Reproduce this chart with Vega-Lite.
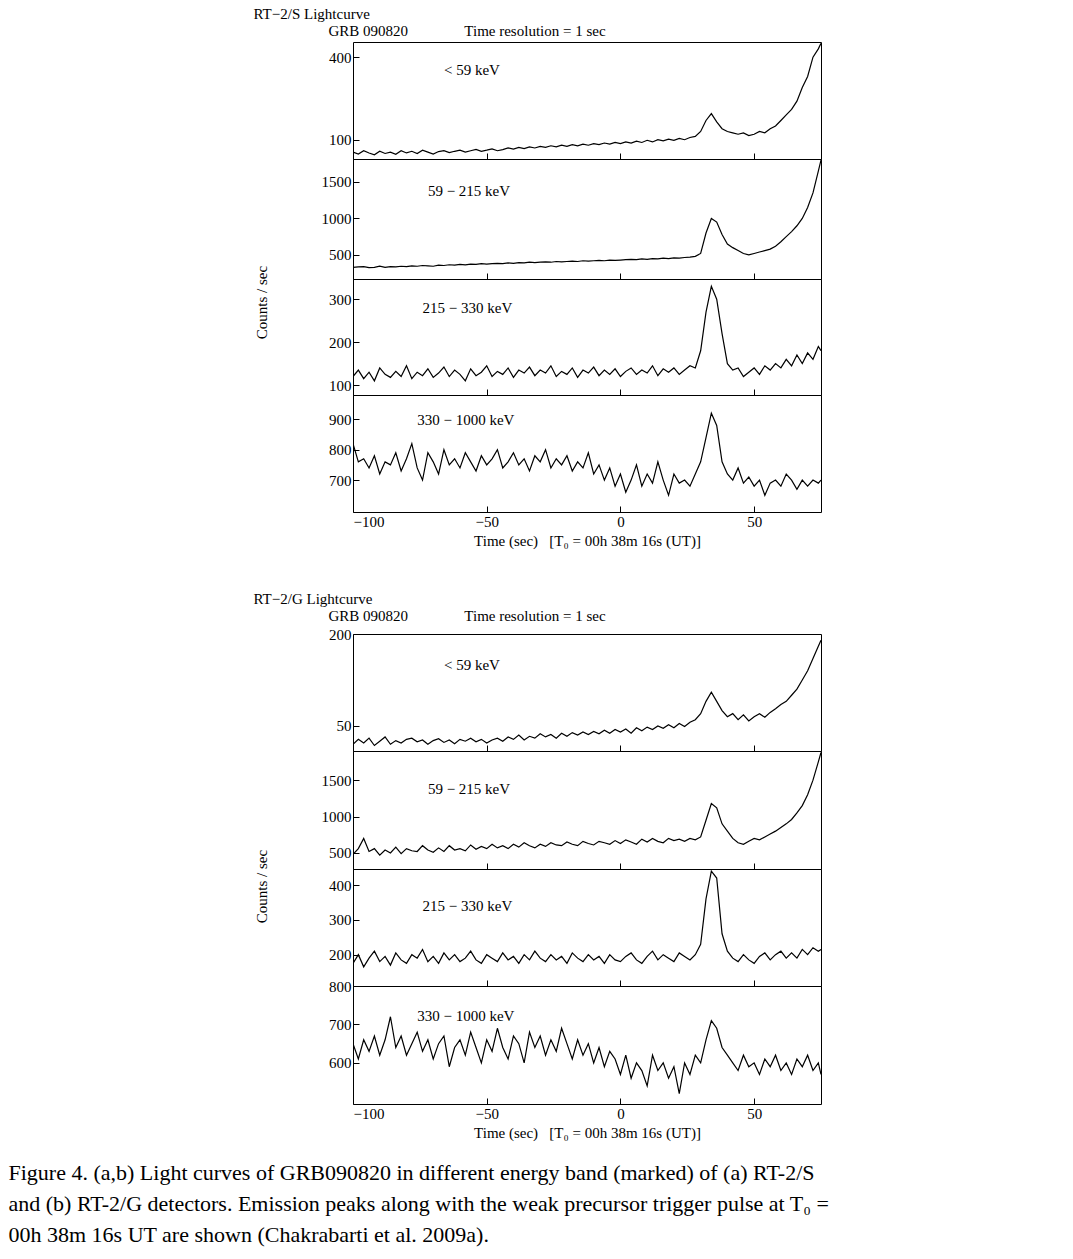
{
"$schema":"https://vega.github.io/schema/vega-lite/v6.json",
"padding":{"left":8,"top":6,"right":8,"bottom":6},
"background":"white",
"config":{"font":"Liberation Serif","view":{"stroke":"black","strokeWidth":1},
"axis":{"labelFont":"Liberation Serif","labelFontSize":15,"labelColor":"black","titleFont":"Liberation Serif","titleFontSize":15,"titleFontWeight":"normal","titleColor":"black","grid":false,"domain":false,"tickSize":-6,"tickColor":"black","labelPadding":8,"labelOverlap":false,"format":"d"},
"title":{"font":"Liberation Serif","fontWeight":"normal","fontSize":15,"color":"black"}},
"title":{"text":["Figure 4.  (a,b) Light curves of GRB090820 in different energy band (marked) of (a) RT-2/S","and (b) RT-2/G detectors. Emission peaks along with the weak precursor trigger pulse at T₀ =","00h 38m 16s UT are shown (Chakrabarti et al. 2009a)."],"orient":"bottom","anchor":"start","dx":-245,"fontSize":22,"lineHeight":31,"offset":22},
"data":{"values":[
{"t":-100,"a1":55,"a2":330,"a3":120,"a4":820,"b1":20,"b2":480,"b3":175,"b4":650},
{"t":-98,"a1":48,"a2":335,"a3":135,"a4":760,"b1":28,"b2":560,"b3":200,"b4":610},
{"t":-96,"a1":60,"a2":340,"a3":115,"a4":770,"b1":22,"b2":700,"b3":165,"b4":660},
{"t":-94,"a1":52,"a2":325,"a3":130,"a4":740,"b1":30,"b2":520,"b3":190,"b4":630},
{"t":-92,"a1":45,"a2":330,"a3":110,"a4":780,"b1":18,"b2":560,"b3":210,"b4":670},
{"t":-90,"a1":58,"a2":345,"a3":140,"a4":720,"b1":25,"b2":470,"b3":180,"b4":620},
{"t":-88,"a1":50,"a2":330,"a3":125,"a4":760,"b1":32,"b2":540,"b3":195,"b4":660},
{"t":-86,"a1":55,"a2":340,"a3":118,"a4":750,"b1":20,"b2":500,"b3":170,"b4":720},
{"t":-84,"a1":47,"a2":335,"a3":132,"a4":790,"b1":26,"b2":580,"b3":205,"b4":640},
{"t":-82,"a1":60,"a2":345,"a3":120,"a4":730,"b1":22,"b2":490,"b3":185,"b4":670},
{"t":-80,"a1":52,"a2":340,"a3":145,"a4":770,"b1":28,"b2":560,"b3":175,"b4":620},
{"t":-78,"a1":58,"a2":350,"a3":115,"a4":820,"b1":30,"b2":530,"b3":200,"b4":650},
{"t":-76,"a1":50,"a2":345,"a3":130,"a4":740,"b1":24,"b2":520,"b3":190,"b4":680},
{"t":-74,"a1":62,"a2":355,"a3":122,"a4":700,"b1":27,"b2":600,"b3":215,"b4":630},
{"t":-72,"a1":55,"a2":350,"a3":138,"a4":790,"b1":20,"b2":540,"b3":180,"b4":660},
{"t":-70,"a1":48,"a2":345,"a3":118,"a4":760,"b1":26,"b2":510,"b3":195,"b4":610},
{"t":-68,"a1":57,"a2":360,"a3":128,"a4":720,"b1":29,"b2":570,"b3":175,"b4":650},
{"t":-66,"a1":60,"a2":355,"a3":142,"a4":800,"b1":23,"b2":520,"b3":205,"b4":670},
{"t":-64,"a1":53,"a2":365,"a3":120,"a4":750,"b1":27,"b2":600,"b3":185,"b4":590},
{"t":-62,"a1":58,"a2":360,"a3":135,"a4":770,"b1":21,"b2":540,"b3":200,"b4":640},
{"t":-60,"a1":62,"a2":370,"a3":125,"a4":740,"b1":28,"b2":560,"b3":180,"b4":660},
{"t":-58,"a1":55,"a2":365,"a3":110,"a4":790,"b1":25,"b2":530,"b3":190,"b4":620},
{"t":-56,"a1":60,"a2":375,"a3":138,"a4":760,"b1":30,"b2":610,"b3":210,"b4":680},
{"t":-54,"a1":65,"a2":370,"a3":122,"a4":730,"b1":24,"b2":550,"b3":185,"b4":640},
{"t":-52,"a1":58,"a2":380,"a3":130,"a4":780,"b1":28,"b2":590,"b3":175,"b4":600},
{"t":-50,"a1":62,"a2":375,"a3":145,"a4":750,"b1":22,"b2":560,"b3":200,"b4":660},
{"t":-48,"a1":67,"a2":380,"a3":120,"a4":770,"b1":27,"b2":620,"b3":190,"b4":630},
{"t":-46,"a1":60,"a2":385,"a3":132,"a4":800,"b1":30,"b2":570,"b3":180,"b4":690},
{"t":-44,"a1":64,"a2":380,"a3":125,"a4":740,"b1":25,"b2":600,"b3":205,"b4":640},
{"t":-42,"a1":70,"a2":390,"a3":140,"a4":760,"b1":32,"b2":560,"b3":185,"b4":610},
{"t":-40,"a1":66,"a2":385,"a3":118,"a4":790,"b1":28,"b2":620,"b3":195,"b4":670},
{"t":-38,"a1":72,"a2":395,"a3":135,"a4":750,"b1":35,"b2":580,"b3":175,"b4":650},
{"t":-36,"a1":68,"a2":390,"a3":128,"a4":770,"b1":27,"b2":640,"b3":200,"b4":600},
{"t":-34,"a1":74,"a2":400,"a3":142,"a4":730,"b1":33,"b2":600,"b3":185,"b4":680},
{"t":-32,"a1":70,"a2":395,"a3":122,"a4":780,"b1":30,"b2":570,"b3":210,"b4":640},
{"t":-30,"a1":76,"a2":400,"a3":135,"a4":760,"b1":37,"b2":620,"b3":190,"b4":670},
{"t":-28,"a1":72,"a2":405,"a3":128,"a4":800,"b1":32,"b2":590,"b3":180,"b4":620},
{"t":-26,"a1":78,"a2":400,"a3":145,"a4":740,"b1":36,"b2":640,"b3":200,"b4":660},
{"t":-24,"a1":74,"a2":410,"a3":120,"a4":770,"b1":30,"b2":610,"b3":185,"b4":630},
{"t":-22,"a1":80,"a2":405,"a3":132,"a4":750,"b1":38,"b2":600,"b3":195,"b4":690},
{"t":-20,"a1":76,"a2":410,"a3":125,"a4":780,"b1":33,"b2":650,"b3":175,"b4":650},
{"t":-18,"a1":82,"a2":415,"a3":140,"a4":730,"b1":39,"b2":620,"b3":205,"b4":610},
{"t":-16,"a1":78,"a2":410,"a3":118,"a4":760,"b1":35,"b2":600,"b3":190,"b4":660},
{"t":-14,"a1":84,"a2":420,"a3":135,"a4":740,"b1":40,"b2":660,"b3":180,"b4":620},
{"t":-12,"a1":80,"a2":415,"a3":128,"a4":790,"b1":36,"b2":630,"b3":200,"b4":650},
{"t":-10,"a1":86,"a2":420,"a3":142,"a4":720,"b1":41,"b2":610,"b3":185,"b4":600},
{"t":-8,"a1":82,"a2":425,"a3":122,"a4":750,"b1":37,"b2":660,"b3":195,"b4":640},
{"t":-6,"a1":88,"a2":420,"a3":135,"a4":700,"b1":43,"b2":640,"b3":175,"b4":590},
{"t":-4,"a1":84,"a2":430,"a3":125,"a4":740,"b1":38,"b2":620,"b3":200,"b4":630},
{"t":-2,"a1":90,"a2":425,"a3":138,"a4":680,"b1":44,"b2":670,"b3":185,"b4":610},
{"t":0,"a1":86,"a2":430,"a3":120,"a4":720,"b1":40,"b2":630,"b3":180,"b4":570},
{"t":2,"a1":92,"a2":435,"a3":132,"a4":660,"b1":45,"b2":680,"b3":195,"b4":620},
{"t":4,"a1":88,"a2":440,"a3":140,"a4":700,"b1":38,"b2":650,"b3":205,"b4":560},
{"t":6,"a1":95,"a2":435,"a3":125,"a4":750,"b1":47,"b2":620,"b3":185,"b4":600},
{"t":8,"a1":90,"a2":445,"a3":135,"a4":680,"b1":42,"b2":690,"b3":175,"b4":580},
{"t":10,"a1":98,"a2":440,"a3":128,"a4":720,"b1":48,"b2":650,"b3":195,"b4":540},
{"t":12,"a1":92,"a2":450,"a3":145,"a4":690,"b1":44,"b2":700,"b3":210,"b4":620},
{"t":14,"a1":100,"a2":445,"a3":122,"a4":760,"b1":50,"b2":660,"b3":185,"b4":580},
{"t":16,"a1":96,"a2":455,"a3":138,"a4":700,"b1":46,"b2":640,"b3":200,"b4":600},
{"t":18,"a1":102,"a2":450,"a3":130,"a4":650,"b1":52,"b2":700,"b3":190,"b4":560},
{"t":20,"a1":98,"a2":460,"a3":140,"a4":720,"b1":47,"b2":670,"b3":180,"b4":590},
{"t":22,"a1":105,"a2":455,"a3":125,"a4":690,"b1":54,"b2":690,"b3":205,"b4":520},
{"t":24,"a1":100,"a2":465,"a3":135,"a4":700,"b1":49,"b2":660,"b3":195,"b4":600},
{"t":26,"a1":108,"a2":470,"a3":145,"a4":680,"b1":56,"b2":700,"b3":185,"b4":570},
{"t":28,"a1":112,"a2":480,"a3":140,"a4":720,"b1":60,"b2":680,"b3":200,"b4":620},
{"t":30,"a1":130,"a2":520,"a3":180,"a4":760,"b1":70,"b2":720,"b3":230,"b4":600},
{"t":32,"a1":170,"a2":800,"a3":270,"a4":840,"b1":90,"b2":950,"b3":360,"b4":660},
{"t":34,"a1":195,"a2":1000,"a3":330,"a4":920,"b1":105,"b2":1180,"b3":440,"b4":710},
{"t":36,"a1":165,"a2":950,"a3":300,"a4":880,"b1":90,"b2":1120,"b3":420,"b4":690},
{"t":38,"a1":140,"a2":780,"a3":220,"a4":760,"b1":75,"b2":900,"b3":260,"b4":640},
{"t":40,"a1":130,"a2":650,"a3":150,"a4":720,"b1":65,"b2":800,"b3":210,"b4":620},
{"t":42,"a1":125,"a2":600,"a3":135,"a4":700,"b1":70,"b2":700,"b3":190,"b4":600},
{"t":44,"a1":120,"a2":560,"a3":140,"a4":740,"b1":60,"b2":640,"b3":180,"b4":580},
{"t":46,"a1":125,"a2":520,"a3":120,"a4":690,"b1":68,"b2":620,"b3":200,"b4":620},
{"t":48,"a1":115,"a2":500,"a3":130,"a4":710,"b1":58,"b2":660,"b3":185,"b4":590},
{"t":50,"a1":120,"a2":520,"a3":140,"a4":680,"b1":65,"b2":700,"b3":175,"b4":600},
{"t":52,"a1":130,"a2":540,"a3":125,"a4":700,"b1":70,"b2":680,"b3":195,"b4":570},
{"t":54,"a1":125,"a2":560,"a3":145,"a4":650,"b1":64,"b2":720,"b3":205,"b4":610},
{"t":56,"a1":140,"a2":580,"a3":135,"a4":690,"b1":72,"b2":760,"b3":185,"b4":590},
{"t":58,"a1":150,"a2":620,"a3":150,"a4":700,"b1":78,"b2":800,"b3":200,"b4":620},
{"t":60,"a1":170,"a2":680,"a3":140,"a4":680,"b1":85,"b2":850,"b3":210,"b4":580},
{"t":62,"a1":190,"a2":750,"a3":160,"a4":720,"b1":90,"b2":900,"b3":190,"b4":600},
{"t":64,"a1":210,"a2":820,"a3":145,"a4":700,"b1":100,"b2":960,"b3":205,"b4":570},
{"t":66,"a1":240,"a2":900,"a3":170,"a4":670,"b1":110,"b2":1050,"b3":190,"b4":610},
{"t":68,"a1":290,"a2":1000,"a3":150,"a4":700,"b1":125,"b2":1150,"b3":215,"b4":590},
{"t":70,"a1":330,"a2":1150,"a3":175,"a4":680,"b1":140,"b2":1300,"b3":200,"b4":620},
{"t":72,"a1":400,"a2":1350,"a3":160,"a4":700,"b1":160,"b2":1500,"b3":220,"b4":580},
{"t":74,"a1":430,"a2":1650,"a3":190,"a4":690,"b1":180,"b2":1750,"b3":210,"b4":600},
{"t":75,"a1":450,"a2":1800,"a3":180,"a4":700,"b1":190,"b2":1880,"b3":215,"b4":570}
]},
"spacing":42,
"vconcat":[
{"title":{"text":"RT−2/S Lightcurve","offset":2},"spacing":0,"bounds":"flush","vconcat":[
{"width":468,"height":117,"title":{"text":"GRB 090820\u00a0\u00a0\u00a0\u00a0\u00a0\u00a0\u00a0\u00a0\u00a0\u00a0\u00a0\u00a0\u00a0\u00a0\u00a0Time resolution = 1 sec","anchor":"start","offset":3},"layer":[
{"mark":{"type":"line","color":"black","strokeWidth":1.2,"clip":true},"encoding":{"x":{"field":"t","type":"quantitative","scale":{"domain":[-100,75],"nice":false},"axis":{"values":[-100,-50,0,50],"labels":false,"title":null}},"y":{"field":"a1","type":"quantitative","scale":{"domain":[30,455],"nice":false,"zero":false},"axis":{"values":[100,200,300,400],"title":null}}}},
{"data":{"values":[{}]},"mark":{"type":"text","align":"left","baseline":"middle","fontSize":15},"encoding":{"x":{"datum":-66},"y":{"datum":353},"text":{"value":"< 59 keV"}}}]},
{"width":468,"height":120,"layer":[
{"mark":{"type":"line","color":"black","strokeWidth":1.2,"clip":true},"encoding":{"x":{"field":"t","type":"quantitative","scale":{"domain":[-100,75],"nice":false},"axis":{"values":[-100,-50,0,50],"labels":false,"title":null}},"y":{"field":"a2","type":"quantitative","scale":{"domain":[170,1815],"nice":false,"zero":false},"axis":{"values":[500,1000,1500],"title":"Counts / sec","titleX":-92,"titleY":143,"titleAngle":-90,"titleAlign":"center","titleBaseline":"middle"}}}},
{"data":{"values":[{}]},"mark":{"type":"text","align":"left","baseline":"middle","fontSize":15},"encoding":{"x":{"datum":-72},"y":{"datum":1370},"text":{"value":"59 − 215 keV"}}}]},
{"width":468,"height":116,"layer":[
{"mark":{"type":"line","color":"black","strokeWidth":1.2,"clip":true},"encoding":{"x":{"field":"t","type":"quantitative","scale":{"domain":[-100,75],"nice":false},"axis":{"values":[-100,-50,0,50],"labels":false,"title":null}},"y":{"field":"a3","type":"quantitative","scale":{"domain":[77,347],"nice":false,"zero":false},"axis":{"values":[100,200,300],"title":null}}}},
{"data":{"values":[{}]},"mark":{"type":"text","align":"left","baseline":"middle","fontSize":15},"encoding":{"x":{"datum":-74},"y":{"datum":279},"text":{"value":"215 − 330 keV"}}}]},
{"width":468,"height":117,"layer":[
{"mark":{"type":"line","color":"black","strokeWidth":1.2,"clip":true},"encoding":{"x":{"field":"t","type":"quantitative","scale":{"domain":[-100,75],"nice":false},"axis":{"values":[-100,-50,0,50],"title":"Time (sec)\u00a0\u00a0\u00a0[T₀ = 00h 38m 16s (UT)]","titlePadding":4}},"y":{"field":"a4","type":"quantitative","scale":{"domain":[595,980],"nice":false,"zero":false},"axis":{"values":[700,800,900],"title":null}}}},
{"data":{"values":[{}]},"mark":{"type":"text","align":"left","baseline":"middle","fontSize":15},"encoding":{"x":{"datum":-76},"y":{"datum":897},"text":{"value":"330 − 1000 keV"}}}]}
]},
{"title":{"text":"RT−2/G Lightcurve","offset":2},"spacing":0,"bounds":"flush","vconcat":[
{"width":468,"height":117,"title":{"text":"GRB 090820\u00a0\u00a0\u00a0\u00a0\u00a0\u00a0\u00a0\u00a0\u00a0\u00a0\u00a0\u00a0\u00a0\u00a0\u00a0Time resolution = 1 sec","anchor":"start","offset":3},"layer":[
{"mark":{"type":"line","color":"black","strokeWidth":1.2,"clip":true},"encoding":{"x":{"field":"t","type":"quantitative","scale":{"domain":[-100,75],"nice":false},"axis":{"values":[-100,-50,0,50],"labels":false,"title":null}},"y":{"field":"b1","type":"quantitative","scale":{"domain":[9,200],"nice":false,"zero":false},"axis":{"values":[50,100,150,200],"title":null}}}},
{"data":{"values":[{}]},"mark":{"type":"text","align":"left","baseline":"middle","fontSize":15},"encoding":{"x":{"datum":-66},"y":{"datum":150},"text":{"value":"< 59 keV"}}}]},
{"width":468,"height":118,"layer":[
{"mark":{"type":"line","color":"black","strokeWidth":1.2,"clip":true},"encoding":{"x":{"field":"t","type":"quantitative","scale":{"domain":[-100,75],"nice":false},"axis":{"values":[-100,-50,0,50],"labels":false,"title":null}},"y":{"field":"b2","type":"quantitative","scale":{"domain":[280,1900],"nice":false,"zero":false},"axis":{"values":[500,1000,1500],"title":"Counts / sec","titleX":-92,"titleY":135,"titleAngle":-90,"titleAlign":"center","titleBaseline":"middle"}}}},
{"data":{"values":[{}]},"mark":{"type":"text","align":"left","baseline":"middle","fontSize":15},"encoding":{"x":{"datum":-72},"y":{"datum":1384},"text":{"value":"59 − 215 keV"}}}]},
{"width":468,"height":117,"layer":[
{"mark":{"type":"line","color":"black","strokeWidth":1.2,"clip":true},"encoding":{"x":{"field":"t","type":"quantitative","scale":{"domain":[-100,75],"nice":false},"axis":{"values":[-100,-50,0,50],"labels":false,"title":null}},"y":{"field":"b3","type":"quantitative","scale":{"domain":[110,446],"nice":false,"zero":false},"axis":{"values":[200,300,400],"title":null}}}},
{"data":{"values":[{}]},"mark":{"type":"text","align":"left","baseline":"middle","fontSize":15},"encoding":{"x":{"datum":-74},"y":{"datum":340},"text":{"value":"215 − 330 keV"}}}]},
{"width":468,"height":118,"layer":[
{"mark":{"type":"line","color":"black","strokeWidth":1.2,"clip":true},"encoding":{"x":{"field":"t","type":"quantitative","scale":{"domain":[-100,75],"nice":false},"axis":{"values":[-100,-50,0,50],"title":"Time (sec)\u00a0\u00a0\u00a0[T₀ = 00h 38m 16s (UT)]","titlePadding":4}},"y":{"field":"b4","type":"quantitative","scale":{"domain":[493,800],"nice":false,"zero":false},"axis":{"values":[600,700,800],"title":null}}}},
{"data":{"values":[{}]},"mark":{"type":"text","align":"left","baseline":"middle","fontSize":15},"encoding":{"x":{"datum":-76},"y":{"datum":721},"text":{"value":"330 − 1000 keV"}}}]}
]}
]
}
